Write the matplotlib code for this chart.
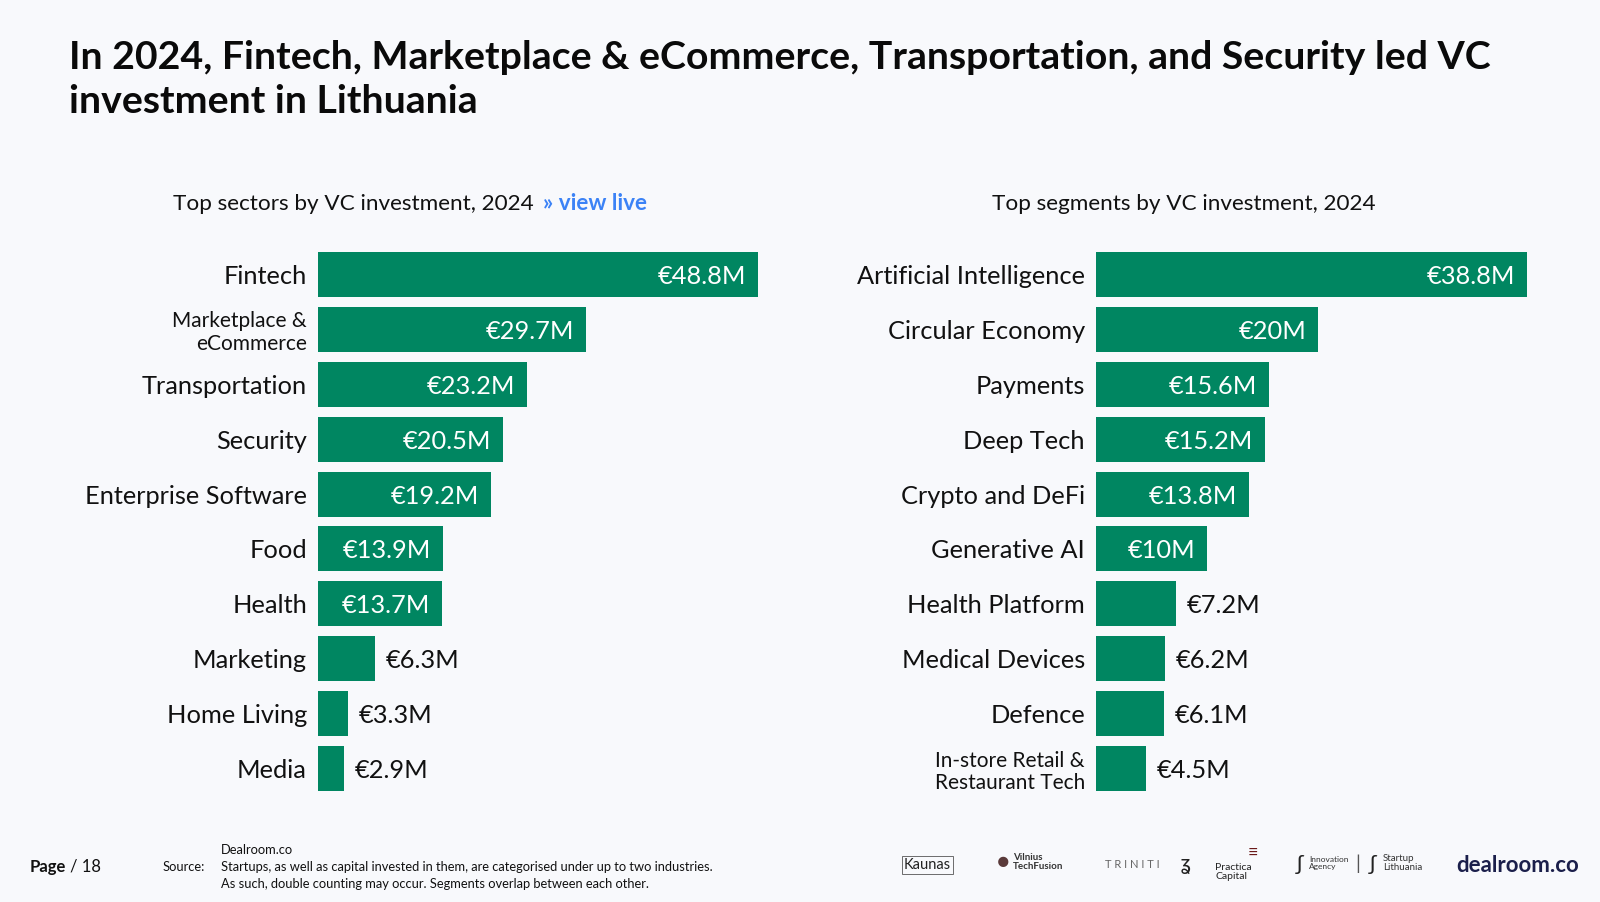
import matplotlib
matplotlib.use("Agg")
import matplotlib.pyplot as plt

plt.rcParams['font.family'] = ['Lato', 'DejaVu Sans']

# data
sectors = ['Fintech', 'Marketplace &\neCommerce', 'Transportation', 'Security',
           'Enterprise Software', 'Food', 'Health', 'Marketing', 'Home Living', 'Media']
sector_vals = [48.8, 29.7, 23.2, 20.5, 19.2, 13.9, 13.7, 6.3, 3.3, 2.9]

segments = ['Artificial Intelligence', 'Circular Economy', 'Payments', 'Deep Tech',
            'Crypto and DeFi', 'Generative AI', 'Health Platform', 'Medical Devices',
            'Defence', 'In-store Retail &\nRestaurant Tech']
segment_vals = [38.8, 20, 15.6, 15.2, 13.8, 10, 7.2, 6.2, 6.1, 4.5]

BG = '#f8f9fc'
GREEN = '#008661'
W, H = 1600, 902

fig = plt.figure(figsize=(W / 100, H / 100), dpi=100, facecolor=BG)


def fmt(v):
    return '€{:g}M'.format(v)


def draw_bars(left_px, width_px, xmax, cats, vals):
    ax = fig.add_axes([left_px / W, (H - 796) / H, width_px / W, 549 / H])
    ax.set_facecolor('none')
    y = list(range(len(cats)))
    ax.barh(y, vals, height=0.82, color=GREEN)
    ax.set_xlim(0, xmax)
    ax.set_ylim(len(cats) - 0.5, -0.5)
    ax.set_yticks(y)
    ax.set_yticklabels(cats)
    for lab in ax.get_yticklabels():
        if '\n' in lab.get_text():
            lab.set_fontsize(15)
            lab.set_linespacing(1.18)
        else:
            lab.set_fontsize(18.3)
        lab.set_color('#111111')
    ax.tick_params(axis='y', length=0, pad=8)
    ax.set_xticks([])
    for s in ax.spines.values():
        s.set_visible(False)
    for yi, v in zip(y, vals):
        if v >= 10:
            ax.annotate(fmt(v), (v, yi), xytext=(-12, -2), textcoords='offset pixels',
                        ha='right', va='center', color='white', fontsize=18.3)
        else:
            ax.annotate(fmt(v), (v, yi), xytext=(11, -2), textcoords='offset pixels',
                        ha='left', va='center', color='#111111', fontsize=18.3)
    return ax


draw_bars(318, 500, 500 / 9.02, sectors, sector_vals)
draw_bars(1096, 480, 480 / 11.12, segments, segment_vals)

# title
fig.text(69 / W, 1 - 40 / H,
         'In 2024, Fintech, Marketplace & eCommerce, Transportation, and Security led VC\ninvestment in Lithuania',
         ha='left', va='top', fontsize=28.3, fontweight='bold', color='#0a0a0a', linespacing=1.3)

# subtitles
fig.text(173 / W, 1 - 204 / H, 'Top sectors by VC investment, 2024', ha='left', va='center',
         fontsize=16.2, color='#111111')
fig.text(543 / W, 1 - 204 / H, '» view live', ha='left', va='center',
         fontsize=16.2, fontweight='bold', color='#3b82f6')
fig.text(992 / W, 1 - 204 / H, 'Top segments by VC investment, 2024', ha='left', va='center',
         fontsize=16.2, color='#111111')

# footer
fig.text(30 / W, 1 - 867 / H, 'Page', ha='left', va='center', fontsize=12, fontweight='bold', color='#111111')
fig.text(70 / W, 1 - 867 / H, '/ 18', ha='left', va='center', fontsize=12, color='#111111')
fig.text(163 / W, 1 - 867 / H, 'Source:', ha='left', va='center', fontsize=9.3, color='#111111')
fig.text(221 / W, 1 - 850 / H, 'Dealroom.co', ha='left', va='center', fontsize=9.3, color='#111111')
fig.text(221 / W, 1 - 867 / H,
         'Startups, as well as capital invested in them, are categorised under up to two industries.',
         ha='left', va='center', fontsize=9.3, color='#111111')
fig.text(221 / W, 1 - 884 / H,
         'As such, double counting may occur. Segments overlap between each other.',
         ha='left', va='center', fontsize=9.3, color='#111111')

# partner logos (approximated with text)
fig.text(904 / W, 1 - 865 / H, 'Kaunas', ha='left', va='center', fontsize=10.5, color='#222222',
         bbox=dict(boxstyle='square,pad=0.15', fc='none', ec='#555555', lw=0.6))
fig.text(1013 / W, 1 - 862 / H, 'Vilnius\nTechFusion', ha='left', va='center', fontsize=7,
         fontweight='bold', color='#333333', linespacing=0.95)
fig.text(1003 / W, 1 - 862 / H, '●', ha='center', va='center', fontsize=15, color='#5a3a3a')
fig.text(1105 / W, 1 - 864 / H, 'T R I N I T I', ha='left', va='center', fontsize=8, color='#666666')
fig.text(1186 / W, 1 - 864 / H, 'ʓ', ha='center', va='center', fontsize=16, color='#222222')
fig.text(1215 / W, 1 - 872 / H, 'Practica\nCapital', ha='left', va='center', fontsize=7.5,
         color='#222222', linespacing=1.0)
fig.text(1253 / W, 1 - 853 / H, '≡', ha='center', va='center', fontsize=13, color='#6b1a1a')
fig.text(1300 / W, 1 - 864 / H, 'ʃ', ha='center', va='center', fontsize=16, color='#222222')
fig.text(1309 / W, 1 - 863 / H, 'Innovation\nAgency', ha='left', va='center', fontsize=6,
         color='#333333', linespacing=1.0)
fig.text(1358 / W, 1 - 864 / H, '|', ha='center', va='center', fontsize=14, color='#555555')
fig.text(1373 / W, 1 - 864 / H, 'ʃ', ha='center', va='center', fontsize=16, color='#222222')
fig.text(1383 / W, 1 - 863 / H, 'Startup\nLithuania', ha='left', va='center', fontsize=7,
         color='#333333', linespacing=1.0)
fig.text(1456 / W, 1 - 865 / H, 'dealroom.co', ha='left', va='center', fontsize=16,
         fontweight='bold', color='#1b1f4b')

fig.savefig('out.png', dpi=100, facecolor=BG)
